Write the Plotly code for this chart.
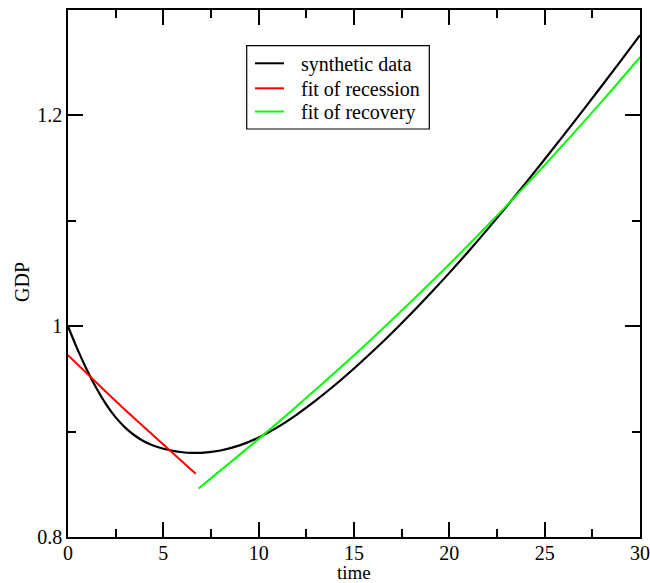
import plotly.graph_objects as go

# synthetic data
t_data = [0, 0.5, 1, 1.5, 2, 2.5, 3, 3.5, 4, 4.5, 5, 5.5, 6, 6.5, 7, 8, 9, 10, 11, 12,
          13, 14, 15, 16, 17, 18, 19, 20, 21, 22, 23, 24, 25, 26, 27, 28, 29, 30]
gdp_data = [1.0000, 0.9780, 0.9583, 0.9409, 0.9259, 0.9135, 0.9038, 0.8963, 0.8906,
            0.8866, 0.8837, 0.8817, 0.8804, 0.8798, 0.8799, 0.8821, 0.8869, 0.8944,
            0.9043, 0.9162, 0.9296, 0.9442, 0.9599, 0.9764, 0.9938, 1.0120, 1.0310,
            1.0506, 1.0709, 1.0919, 1.1135, 1.1357, 1.1584, 1.1813, 1.2046, 1.2281,
            1.2520, 1.2761]

# fit of recession
t_rec = [0, 1, 2, 3, 4, 5, 6, 6.7]
gdp_rec = [0.9725, 0.9548, 0.9375, 0.9205, 0.9038, 0.8874, 0.8713, 0.8600]

# fit of recovery
t_recov = [6.85, 8, 10, 12, 14, 16, 18, 20, 22, 24, 26, 28, 30]
gdp_recov = [0.846, 0.8632, 0.8931, 0.9241, 0.9560, 0.9891, 1.0234, 1.0588,
             1.0955, 1.1334, 1.1727, 1.2133, 1.2553]

names = ["synthetic data", "fit of recession", "fit of recovery"]
colors = ["black", "#ff0000", "#00ff00"]

font = "Liberation Serif, Times New Roman, serif"

fig = go.Figure()
fig.add_trace(go.Scatter(x=t_data, y=gdp_data, mode="lines", name=names[0],
                         line=dict(color=colors[0], width=2.2, shape="spline"),
                         showlegend=False))
fig.add_trace(go.Scatter(x=t_rec, y=gdp_rec, mode="lines", name=names[1],
                         line=dict(color=colors[1], width=2), showlegend=False))
fig.add_trace(go.Scatter(x=t_recov, y=gdp_recov, mode="lines", name=names[2],
                         line=dict(color=colors[2], width=2, shape="spline"),
                         showlegend=False))

axis_common = dict(
    showline=True, linecolor="black", linewidth=1.5, mirror="ticks",
    ticks="inside", ticklen=15, tickwidth=1.5, tickcolor="black",
    showgrid=False, zeroline=False, automargin=False,
    tickfont=dict(family=font, size=20, color="black"),
)

fig.update_xaxes(range=[0, 30], tick0=0, dtick=5, ticklabelstandoff=-3,
                 minor=dict(ticks="inside", ticklen=8, tickwidth=1.5, tickcolor="black",
                            dtick=2.5, showgrid=False),
                 **axis_common)
fig.update_yaxes(range=[0.8, 1.3], tick0=0.8, dtick=0.2,
                 minor=dict(ticks="inside", ticklen=8, tickwidth=1.5, tickcolor="black",
                            dtick=0.1, showgrid=False),
                 **axis_common)

# plot area in pixels: x 68..640, y 10..537
L, R, T, B = 68, 640, 10, 537
def px(x):
    return (x - L) / (R - L)
def py(y):
    return (B - y) / (B - T)

annotations = [
    dict(text="time", x=0.5, y=0, xref="paper", yref="paper", xanchor="center",
         yanchor="middle", yshift=-35.5, showarrow=False,
         font=dict(family=font, size=19, color="black")),
    dict(text="GDP", x=0, y=py(282), xref="paper", yref="paper", xanchor="center",
         yanchor="middle", xshift=-(L - 22), textangle=-90, showarrow=False,
         font=dict(family=font, size=20, color="black")),
]
shapes = [
    dict(type="rect", xref="paper", yref="paper", x0=px(246.7), x1=px(429.3),
         y0=py(129), y1=py(45.7), line=dict(color="black", width=1.2),
         fillcolor="white", layer="above"),
]
rows = [63.3, 88.3, 111.5]
for name, col, ry in zip(names, colors, rows):
    shapes.append(dict(type="line", xref="paper", yref="paper", x0=px(255), x1=px(284),
                       y0=py(ry), y1=py(ry), line=dict(color=col, width=2), layer="above"))
    annotations.append(dict(text=name, x=px(299), y=py(ry), xref="paper", yref="paper",
                            xanchor="left", yanchor="middle", yshift=-1, showarrow=False,
                            font=dict(family=font, size=20, color="black")))

fig.update_layout(
    width=650, height=583,
    margin=dict(l=L, r=650 - R, t=T, b=583 - B),
    paper_bgcolor="white", plot_bgcolor="white",
    showlegend=False,
    annotations=annotations,
    shapes=shapes,
)

fig.write_html("out.html", config={"displayModeBar": False},
               post_script="document.body.style.margin='0';document.body.style.overflow='hidden';")
